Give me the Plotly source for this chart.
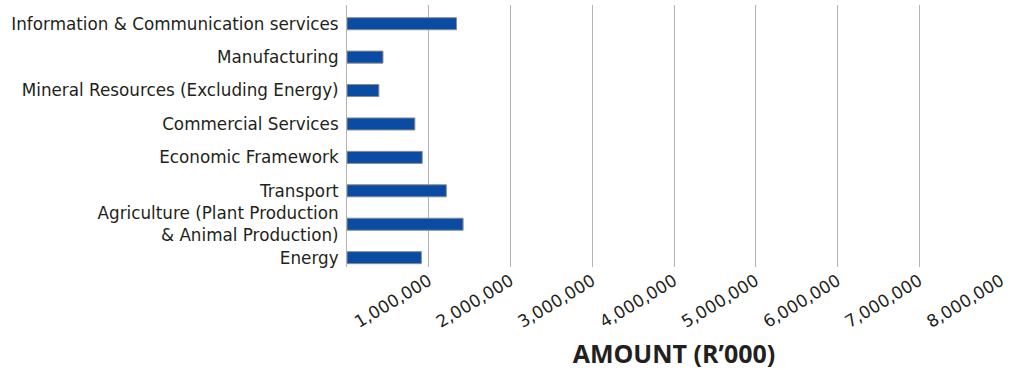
import plotly.graph_objects as go

categories = [
    "Information & Communication services",
    "Manufacturing",
    "Mineral Resources (Excluding Energy)",
    "Commercial Services",
    "Economic Framework",
    "Transport",
    "Agriculture (Plant Production<br>& Animal Production)",
    "Energy",
]
amounts = [1340000, 440000, 390000, 830000, 920000, 1215000, 1420000, 910000]

tick_values = [1000000, 2000000, 3000000, 4000000, 5000000, 6000000, 7000000, 8000000]
tick_labels = ["1,000,000", "2,000,000", "3,000,000", "4,000,000",
               "5,000,000", "6,000,000", "7,000,000", "8,000,000"]

fig = go.Figure(go.Bar(
    x=amounts, y=categories, orientation="h",
    marker=dict(color="#0a4ca3", line=dict(color="#8c8c8c", width=1)),
))

fig.update_layout(
    width=1018, height=370,
    margin=dict(l=347, r=17, t=5, b=103, autoexpand=False),
    paper_bgcolor="white", plot_bgcolor="white",
    bargap=0.64,
    showlegend=False,
    font=dict(family="DejaVu Sans", color="#231f20"),
)
fig.update_xaxes(
    range=[0, 8000000],
    tickvals=tick_values, ticktext=tick_labels,
    tickangle=-31,
    tickfont=dict(size=17, family="DejaVu Sans", color="#231f20"),
    showgrid=True, gridcolor="#b3b3b3", gridwidth=1,
    zeroline=False, showline=False, ticks="",
    automargin=False,
    title=dict(text="<b>AMOUNT (R’000)</b>", font=dict(size=25, family="Open Sans", color="#231f20"), standoff=14),
)
fig.update_yaxes(
    range=[7.28, -0.56],
    tickfont=dict(size=16.8, family="DejaVu Sans", color="#231f20"),
    showline=True, linecolor="#b3b3b3", linewidth=1,
    showgrid=False, ticks="", ticklabelstandoff=4,
    automargin=False,
)

fig.write_html("out.html")
